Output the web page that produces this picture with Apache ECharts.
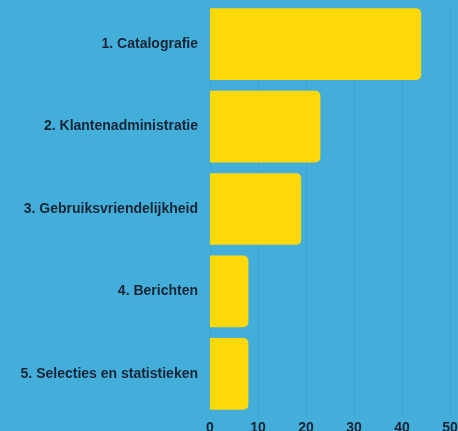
<html>
<head>
<script src="https://cdn.jsdelivr.net/npm/echarts@6/dist/echarts.min.js"></script>
<style>
  body{margin:0;background:#44aedb;}
  #chart{width:458px;height:431px;}
</style>
</head>
<body>
<div id="chart"></div>
<script>
var categories = ['1. Catalografie', '2. Klantenadministratie', '3. Gebruiksvriendelijkheid', '4. Berichten', '5. Selecties en statistieken'];
var values = [44, 23, 19, 8, 8];
var ticks = [0, 10, 20, 30, 40, 50];

var myChart = echarts.init(document.getElementById('chart'));
var option = {
  backgroundColor: '#44aedb',
  animation: false,
  grid: {left: 210, right: 8, top: 3, bottom: 16, containLabel: false, outerBoundsMode: 'none'},
  xAxis: {
    type: 'value',
    min: ticks[0],
    max: ticks[ticks.length - 1],
    interval: 10,
    axisLine: {show: false},
    axisTick: {show: false},
    splitLine: {lineStyle: {color: 'rgba(0,40,80,0.08)'}},
    axisLabel: {color: '#182433', fontWeight: 'bold', fontSize: 14, fontFamily: 'Liberation Sans', margin: 1}
  },
  yAxis: {
    type: 'category',
    inverse: true,
    data: categories,
    axisLine: {show: false},
    axisTick: {show: false},
    axisLabel: {color: '#182433', fontWeight: 'bold', fontSize: 14, fontFamily: 'Liberation Sans', margin: 12}
  },
  series: [{
    type: 'bar',
    data: values,
    barCategoryGap: '13%',
    itemStyle: {color: '#fdd90a', borderRadius: [0, 5, 5, 0]}
  }]
};
myChart.setOption(option);
</script>
</body>
</html>
